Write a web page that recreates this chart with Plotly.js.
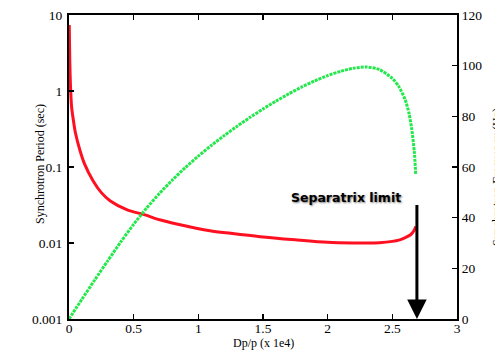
<!DOCTYPE html>
<html>
<head>
<meta charset="utf-8">
<script src="https://cdn.plot.ly/plotly-3.0.1.min.js"></script>
<style>html,body{margin:0;padding:0;background:#fff;}#chart{width:495px;height:350px;}</style>
</head>
<body>
<div id="chart"></div>
<script>
// Synchrotron period (left, log axis)
const xPeriod = [0.002, 0.006, 0.012, 0.02, 0.035, 0.05, 0.085, 0.12, 0.188, 0.25, 0.317, 0.446, 0.588, 0.7, 0.833, 1.09, 1.25, 1.477, 1.75, 2.0, 2.2, 2.3, 2.4, 2.5, 2.55, 2.6, 2.63, 2.65, 2.67, 2.681];
const period  = [7.4, 2.5, 1.1, 0.62, 0.4, 0.28, 0.165, 0.11, 0.065, 0.046, 0.036, 0.0275, 0.0234, 0.0202, 0.0178, 0.0145, 0.0134, 0.0121, 0.0110, 0.0102, 0.0100, 0.0100, 0.0101, 0.0105, 0.0109, 0.0118, 0.0125, 0.0133, 0.0148, 0.0165];
// Synchrotron frequency (right, linear axis)
const xFreq = [0, 0.1, 0.2, 0.3, 0.4, 0.5, 0.6, 0.7, 0.8, 0.9, 1.0, 1.1, 1.2, 1.3, 1.4, 1.5, 1.6, 1.7, 1.8, 1.9, 2.0, 2.1, 2.2, 2.3, 2.4, 2.5, 2.55, 2.6, 2.63, 2.65, 2.67, 2.681];
const freq  = [0, 7.8, 15.5, 23, 30.4, 37.4, 43.8, 49.6, 54.9, 59.8, 64.3, 68.5, 72.4, 76.1, 79.6, 82.9, 86.0, 88.9, 91.6, 94.0, 96.1, 97.8, 99.0, 99.5, 98.5, 95, 91.8, 86.5, 81, 75, 66, 57];
// Tick labels
const yTickVals = [0.001, 0.01, 0.1, 1, 10];
const yTickText = ["0.001", "0.01", "0.1", "1", "10"];
const xTickVals = [0, 0.5, 1, 1.5, 2, 2.5, 3];
const xTickText = ["0", "0.5", "1", "1.5", "2", "2.5", "3"];
const y2TickVals = [0, 20, 40, 60, 80, 100, 120];
// Titles and annotation
const xTitle = "Dp/p (x 1e4)";
const yTitle = "Synchrotron Period (sec)";
const y2Title = "Synchrotron Frequency (Hz)";
const limitX = 2.69;
const limitTail = 0.033;
const limitLabel = "Separatrix limit";
const labelPos = [2.14, 0.04];

const serif = "Liberation Serif, Times New Roman, serif";

const traces = [
  {x: xPeriod, y: period, type: "scatter", mode: "lines", yaxis: "y",
   line: {color: "#ff1020", width: 3, shape: "spline", smoothing: 0.8}, hoverinfo: "skip"},
  {x: xFreq, y: freq, type: "scatter", mode: "lines", yaxis: "y2",
   line: {color: "#22e84a", width: 3, dash: "3px,1px", shape: "spline", smoothing: 0.6}, hoverinfo: "skip"}
];

const axisCommon = {
  ticks: "inside", ticklen: 5, tickwidth: 1.5, tickcolor: "#000",
  showline: true, linecolor: "#000", linewidth: 2,
  showgrid: false, zeroline: false,
  tickfont: {family: serif, size: 13.5, color: "#000"}
};

const layout = {
  width: 495, height: 350,
  margin: {l: 69, r: 38, t: 15, b: 31},
  paper_bgcolor: "#fff", plot_bgcolor: "#fff",
  showlegend: false,
  font: {family: serif, size: 12, color: "#000"},
  xaxis: Object.assign({}, axisCommon, {
    range: [0, 3], tickvals: xTickVals, ticktext: xTickText, mirror: "ticks",
    ticklabelstandoff: -4
  }),
  yaxis: Object.assign({}, axisCommon, {
    type: "log", range: [-3, 1], tickvals: yTickVals, ticktext: yTickText,
    ticklabelstandoff: 2
  }),
  yaxis2: Object.assign({}, axisCommon, {
    overlaying: "y", side: "right", range: [0, 120], tickvals: y2TickVals
  }),
  annotations: [
    {x: limitX, y: -3, xref: "x", yref: "y", ax: limitX, ay: Math.log10(limitTail),
     axref: "x", ayref: "y", text: "", showarrow: true,
     arrowhead: 2, arrowsize: 1.3, arrowwidth: 3, arrowcolor: "#000"},
    {x: labelPos[0], y: Math.log10(labelPos[1]), xref: "x", yref: "y", text: limitLabel,
     showarrow: false, xanchor: "center", yanchor: "middle",
     font: {family: "DejaVu Sans", size: 12.5, color: "#000", weight: "bold", shadow: "1px 1px 2px #777"}},
    {x: 0.5, y: 0, xref: "paper", yref: "paper", yshift: -24,
     text: xTitle, showarrow: false, xanchor: "center", yanchor: "middle",
     font: {family: serif, size: 12}},
    {x: 0, y: 0.5, xref: "paper", yref: "paper", xshift: -29, yshift: 3,
     text: yTitle, textangle: -90, showarrow: false, xanchor: "center", yanchor: "middle",
     font: {family: serif, size: 12}},
    {x: 1, y: 0.5, xref: "paper", yref: "paper", xshift: 40, yshift: -10,
     text: y2Title, textangle: -90, showarrow: false,
     xanchor: "center", yanchor: "middle", font: {family: serif, size: 12}}
  ]
};

Plotly.newPlot("chart", traces, layout, {staticPlot: true, displayModeBar: false});
</script>
</body>
</html>
